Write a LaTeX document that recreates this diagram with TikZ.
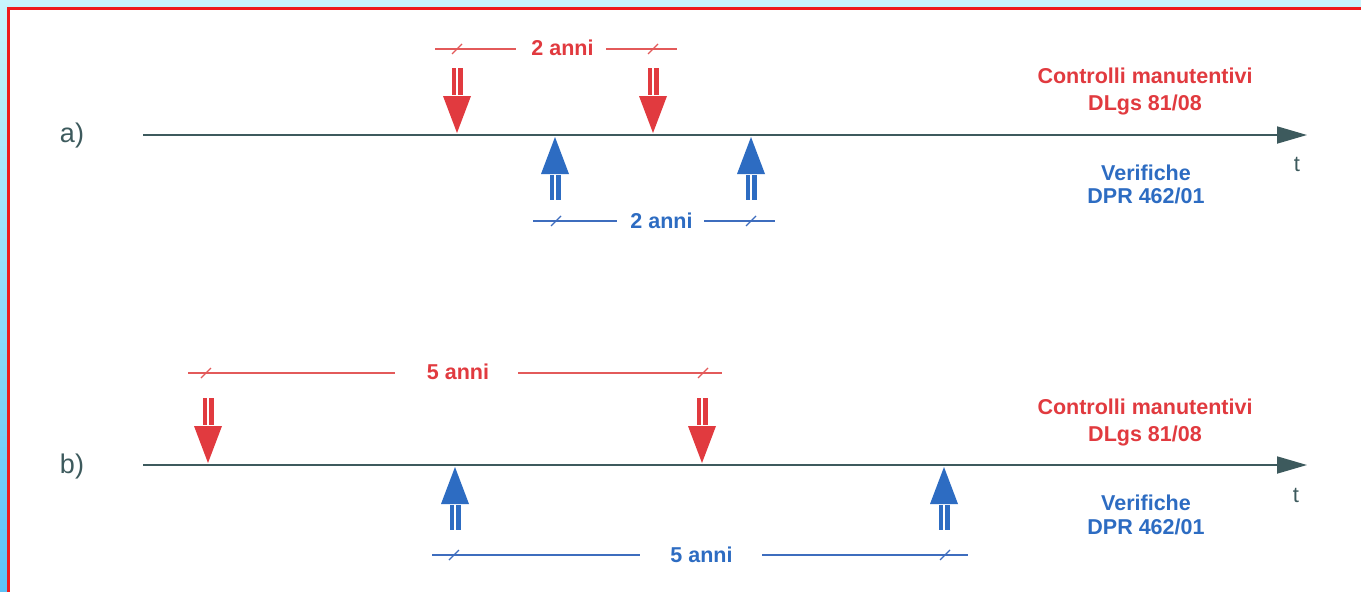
\documentclass[tikz,border=0pt]{standalone}
\usepackage{fontspec}
\setmainfont{Liberation Sans}
\usetikzlibrary{arrows.meta}
\definecolor{cred}{HTML}{E13A3F}
\definecolor{credl}{HTML}{E35A5A}
\definecolor{cblue}{HTML}{2D6CC2}
\definecolor{cbluel}{HTML}{3E6DBE}
\definecolor{cdark}{HTML}{3D5A5D}
\definecolor{cframe}{HTML}{EE1C1C}
\definecolor{csky}{HTML}{C8F5FC}
\definecolor{cskyd}{HTML}{5CC2F6}
\tikzset{
  axisline/.style={draw=cdark, line width=1.8pt, -{Triangle[length=30pt,width=17pt]}},
  lbl/.style={font=\fontsize{27}{30}\selectfont, text=cdark, inner sep=0pt, anchor=base},
  tlbl/.style={font=\fontsize{22}{24}\selectfont, text=cdark, inner sep=0pt, anchor=base},
  redtxt/.style={font=\bfseries\fontsize{21.5}{24}\selectfont, text=cred, inner sep=0pt, anchor=base},
  bluetxt/.style={font=\bfseries\fontsize{21.5}{24}\selectfont, text=cblue, inner sep=0pt, anchor=base},
  reddim/.style={draw=credl, line width=1.4pt},
  bluedim/.style={draw=cbluel, line width=1.4pt},
  downarr/.pic={
    \fill[cred] (-14,-37) -- (14,-37) -- (0,0) -- cycle;
    \fill[cred] (-5.5,-38) rectangle (-1.2,-65);
    \fill[cred] (1.2,-38) rectangle (5.5,-65);
  },
  uparr/.pic={
    \fill[cblue] (-14,37) -- (14,37) -- (0,0) -- cycle;
    \fill[cblue] (-5.5,38) rectangle (-1.2,63);
    \fill[cblue] (1.2,38) rectangle (5.5,63);
  },
  tick/.pic={
    \draw[line width=1.1pt] (-5,5) -- (5,-5);
  }
}
\begin{document}
\begin{tikzpicture}[x=1pt,y=-1pt]
\useasboundingbox (0,0) rectangle (1361,592);
% frame
\fill[csky] (0,0) rectangle (1361,8);
\shade[top color=csky, bottom color=cskyd] (0,0) rectangle (8,592);
\fill[white] (8,8) rectangle (1361,592);
\draw[cframe, line width=3pt] (8.5,592) -- (8.5,8.5) -- (1361,8.5);

% ---------- a) ----------
\node[lbl] (la) at (72,142) {a)};
\coordinate (a0) at (143,135);
\coordinate (a1) at (1307,135);
\draw[axisline] (a0) -- (a1);
\node[tlbl] (ta) at (1297,171) {t};

\pic at (457,133) {downarr};
\pic at (653,133) {downarr};
\pic at (555,137) {uparr};
\pic at (751,137) {uparr};

\node[redtxt] (da) at (562.5,55) {2 anni};
\draw[reddim] (435,49) -- (516,49);
\draw[reddim] (606,49) -- (677,49);
\pic[credl] at (457,49) {tick};
\pic[credl] at (653,49) {tick};

\node[bluetxt] (db) at (661.5,228) {2 anni};
\draw[bluedim] (533,221) -- (617,221);
\draw[bluedim] (704,221) -- (775,221);
\pic[cbluel] at (556,221) {tick};
\pic[cbluel] at (751,221) {tick};

\node[redtxt] (ra1) at (1145,83) {Controlli manutentivi};
\node[redtxt] (ra2) at (1145,110) {DLgs 81/08};
\node[bluetxt] (ba1) at (1146,180) {Verifiche};
\node[bluetxt] (ba2) at (1146,203) {DPR 462/01};

% ---------- b) ----------
\node[lbl] (lb) at (72,473) {b)};
\coordinate (b0) at (143,465);
\coordinate (b1) at (1307,465);
\draw[axisline] (b0) -- (b1);
\node[tlbl] (tb) at (1296,502) {t};

\pic at (208,463) {downarr};
\pic at (702,463) {downarr};
\pic at (455,467) {uparr};
\pic at (944,467) {uparr};

\node[redtxt] (dc) at (458,379) {5 anni};
\draw[reddim] (188,373) -- (395,373);
\draw[reddim] (518,373) -- (722,373);
\pic[credl] at (206,373) {tick};
\pic[credl] at (703,373) {tick};

\node[bluetxt] (dd) at (701.5,562) {5 anni};
\draw[bluedim] (432,555) -- (640,555);
\draw[bluedim] (762,555) -- (968,555);
\pic[cbluel] at (454,555) {tick};
\pic[cbluel] at (945,555) {tick};

\node[redtxt] (rb1) at (1145,414) {Controlli manutentivi};
\node[redtxt] (rb2) at (1145,441) {DLgs 81/08};
\node[bluetxt] (bb1) at (1146,510) {Verifiche};
\node[bluetxt] (bb2) at (1146,534) {DPR 462/01};
\end{tikzpicture}
\end{document}
